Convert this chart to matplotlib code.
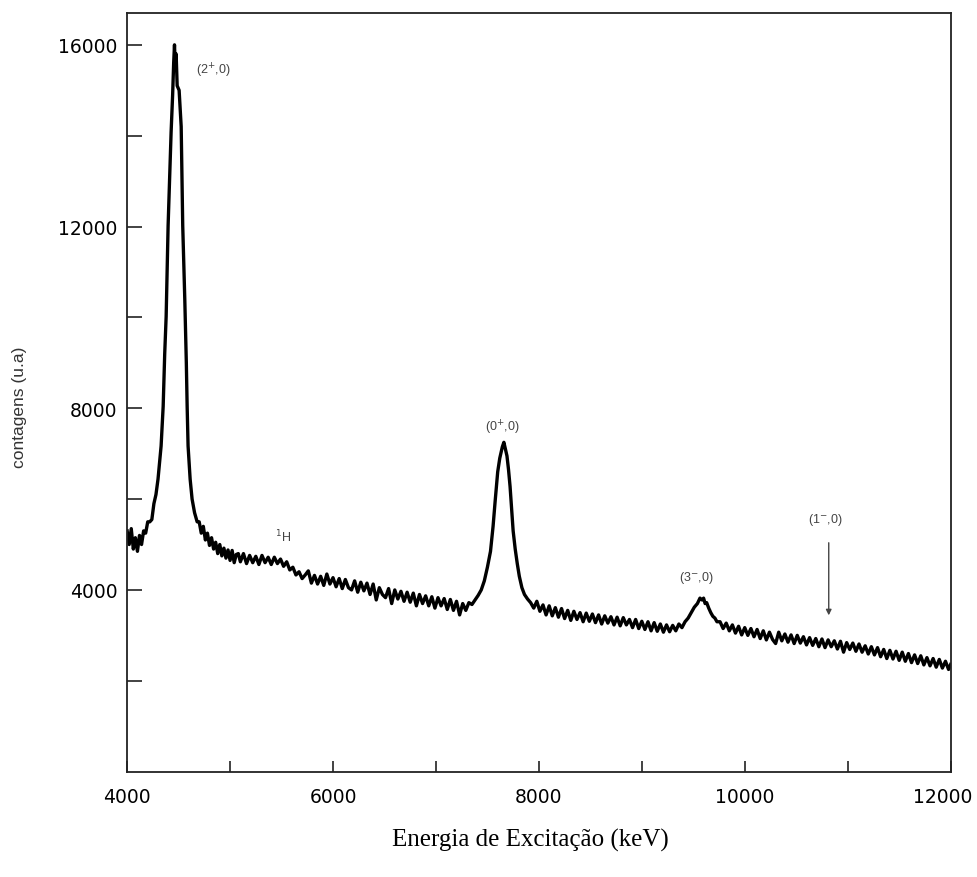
import matplotlib
matplotlib.use("Agg")
import matplotlib.pyplot as plt
import matplotlib.transforms as mtransforms
from matplotlib.ticker import MultipleLocator

# spectrum (energy in keV, counts in arb. units)
energia = [
    4000, 4020, 4040, 4060, 4080, 4100, 4120, 4140, 4160, 4180, 4200, 4220, 4240,
    4260, 4280, 4300, 4315, 4330, 4350, 4365, 4379, 4398, 4427, 4442, 4452, 4460,
    4468, 4476, 4486, 4505, 4525, 4540, 4560, 4575, 4583, 4592, 4612, 4631, 4655, 4680,
    4700, 4720, 4740, 4760, 4780, 4800, 4820, 4840, 4860, 4880, 4900, 4920, 4940,
    4960, 4980, 5000, 5020, 5040, 5060, 5080, 5100, 5130, 5160, 5190, 5220, 5250,
    5280, 5310, 5340, 5370, 5400, 5430, 5460, 5490, 5520, 5550, 5580, 5610, 5640,
    5670, 5700, 5730, 5760, 5790, 5820, 5850, 5880, 5910, 5940, 5970, 6000, 6030,
    6060, 6090, 6120, 6150, 6180, 6210, 6240, 6270, 6300, 6330, 6360, 6390, 6420,
    6450, 6480, 6510, 6540, 6570, 6600, 6630, 6660, 6690, 6720, 6750, 6780, 6810,
    6840, 6870, 6900, 6930, 6960, 6990, 7020, 7050, 7080, 7110, 7140, 7170, 7200,
    7230, 7260, 7290, 7320, 7350, 7380, 7410, 7440, 7470, 7500, 7530, 7555, 7575,
    7600, 7620, 7645, 7660, 7675, 7690, 7705, 7720, 7735, 7750, 7770, 7790, 7810,
    7835, 7860, 7890, 7920, 7950, 7980, 8010, 8040, 8070, 8100, 8130, 8160, 8190,
    8220, 8250, 8280, 8310, 8340, 8370, 8400, 8430, 8460, 8490, 8520, 8550, 8580,
    8610, 8640, 8670, 8700, 8730, 8760, 8790, 8820, 8850, 8880, 8910, 8940, 8970,
    9000, 9030, 9060, 9090, 9120, 9150, 9180, 9210, 9240, 9270, 9300, 9330, 9360,
    9390, 9420, 9450, 9480, 9510, 9540, 9565, 9585, 9600, 9615, 9630, 9650, 9670,
    9690, 9710, 9730, 9760, 9790, 9820, 9850, 9880, 9910, 9940, 9970, 10000, 10030,
    10060, 10090, 10120, 10150, 10180, 10210, 10240, 10270, 10300, 10330, 10360,
    10390, 10420, 10450, 10480, 10510, 10540, 10570, 10600, 10630, 10660, 10690,
    10720, 10750, 10780, 10810, 10840, 10870, 10900, 10930, 10960, 10990, 11020,
    11050, 11080, 11110, 11140, 11170, 11200, 11230, 11260, 11290, 11320, 11350,
    11380, 11410, 11440, 11470, 11500, 11530, 11560, 11590, 11620, 11650, 11680,
    11710, 11740, 11770, 11800, 11830, 11860, 11890, 11920, 11950, 11980, 12000,
]
contagens = [
    5300, 5000, 5350, 4900, 5150, 4850, 5200, 5000, 5300, 5250, 5500, 5500, 5550,
    5900, 6100, 6440, 6800, 7170, 8040, 9200, 10020, 12020, 14070, 14900, 15600, 16000,
    15500, 15800, 15100, 15000, 14200, 12020, 10400, 9000, 8040, 7170, 6440, 6000, 5700, 5500,
    5500, 5250, 5400, 5100, 5250, 4980, 5150, 4900, 5050, 4800, 5000, 4750, 4920,
    4700, 4880, 4650, 4870, 4600, 4780, 4800, 4620, 4800, 4580, 4760, 4600, 4740,
    4560, 4760, 4600, 4720, 4560, 4720, 4580, 4680, 4520, 4620, 4440, 4500, 4330,
    4400, 4250, 4330, 4420, 4150, 4320, 4130, 4300, 4100, 4350, 4130, 4270, 4070,
    4250, 4030, 4230, 4050, 4000, 4200, 3950, 4170, 3980, 4150, 3900, 4130, 3780,
    4050, 3900, 3830, 4030, 3700, 4000, 3800, 3970, 3750, 3950, 3730, 3930, 3650,
    3900, 3700, 3870, 3650, 3850, 3600, 3830, 3650, 3810, 3570, 3790, 3550, 3750,
    3450, 3700, 3550, 3720, 3680, 3780, 3880, 4000, 4200, 4500, 4850, 5400, 5950,
    6600, 6900, 7150, 7250, 7100, 6950, 6650, 6280, 5800, 5300, 4900, 4580, 4300,
    4050, 3900, 3800, 3720, 3600, 3750, 3530, 3670, 3450, 3650, 3430, 3610, 3400,
    3590, 3370, 3550, 3330, 3530, 3350, 3500, 3300, 3490, 3310, 3470, 3280, 3450,
    3250, 3430, 3270, 3410, 3230, 3400, 3210, 3390, 3230, 3350, 3170, 3350, 3150,
    3310, 3130, 3300, 3100, 3280, 3090, 3250, 3070, 3230, 3080, 3220, 3100, 3250,
    3170, 3300, 3380, 3500, 3620, 3700, 3820, 3780, 3820, 3700, 3720, 3600, 3500,
    3420, 3380, 3300, 3300, 3150, 3270, 3100, 3230, 3050, 3200, 3010, 3170, 3000,
    3150, 2970, 3130, 2930, 3100, 2900, 3070, 2910, 2820, 3070, 2880,
    3030, 2850, 3010, 2820, 3000, 2830, 2970, 2790, 2950, 2780, 2930,
    2750, 2920, 2730, 2900, 2750, 2880, 2700, 2870, 2630, 2840, 2690,
    2830, 2650, 2810, 2630, 2770, 2590, 2750, 2570, 2730, 2530, 2690,
    2490, 2670, 2480, 2650, 2450, 2630, 2430, 2600, 2400, 2570, 2380,
    2550, 2350, 2510, 2330, 2490, 2300, 2470, 2280, 2430, 2250, 2360,
]

# peak labels: (text, energy, counts)
rotulos = [
    (r"(2$^{+}$,0)", 4835, 15450),
    (r"(0$^{+}$,0)", 7650, 7600),
    (r"$^{1}$H", 5515, 5190),
    (r"(3$^{-}$,0)", 9534, 4290),
    (r"(1$^{-}$,0)", 10787, 5560),
]
seta_x = 10816
seta_topo, seta_base = 5100, 3380

fig = plt.figure(figsize=(9.78, 8.78), dpi=100)
ax = fig.add_axes([0.130, 0.120, 0.842, 0.864])

ax.plot(energia, contagens, color="black", lw=2.4)

ax.set_xlim(4000, 12000)
ax.set_ylim(0, 16700)

ax.set_xticks([4000, 6000, 8000, 10000, 12000])
ax.xaxis.set_minor_locator(MultipleLocator(1000))
ax.set_yticks([4000, 8000, 12000, 16000])
ax.set_yticks([2000, 6000, 10000, 14000], minor=True)

ax.tick_params(axis="both", which="both", direction="in", width=1.2, colors="#222222")
ax.tick_params(axis="x", which="both", length=8, pad=11, labelsize=13.5)
ax.tick_params(axis="y", which="both", length=11, pad=7, labelsize=13.5)
for lab in ax.get_xticklabels() + ax.get_yticklabels():
    lab.set_fontfamily("DejaVu Sans")
    lab.set_color("black")

# last x label sits right at the page edge; nudge it in so it is not cut
ultimo = ax.get_xticklabels()[-1]
ultimo.set_transform(ultimo.get_transform() +
                     mtransforms.ScaledTranslation(-0.08, 0, fig.dpi_scale_trans))

for s in ax.spines.values():
    s.set_linewidth(1.3)
    s.set_color("#222222")

for txt, ex, cy in rotulos:
    ax.text(ex, cy, txt, ha="center", va="center", fontsize=9,
            color="#444444", family="Liberation Sans")

ax.annotate("", xy=(seta_x, seta_base), xytext=(seta_x, seta_topo),
            arrowprops=dict(arrowstyle="-|>", color="#444444", lw=1.0,
                            mutation_scale=8))

fig.text(20 / 978, 1 - 407 / 878, "contagens (u.a)", rotation=90,
         ha="center", va="center", fontsize=12.5, family="Liberation Sans",
         color="#333333")
fig.text(530 / 978, 1 - 840 / 878, "Energia de Excitação (keV)",
         ha="center", va="center", fontsize=18, family="Liberation Serif")

fig.savefig("out.png", dpi=100)
